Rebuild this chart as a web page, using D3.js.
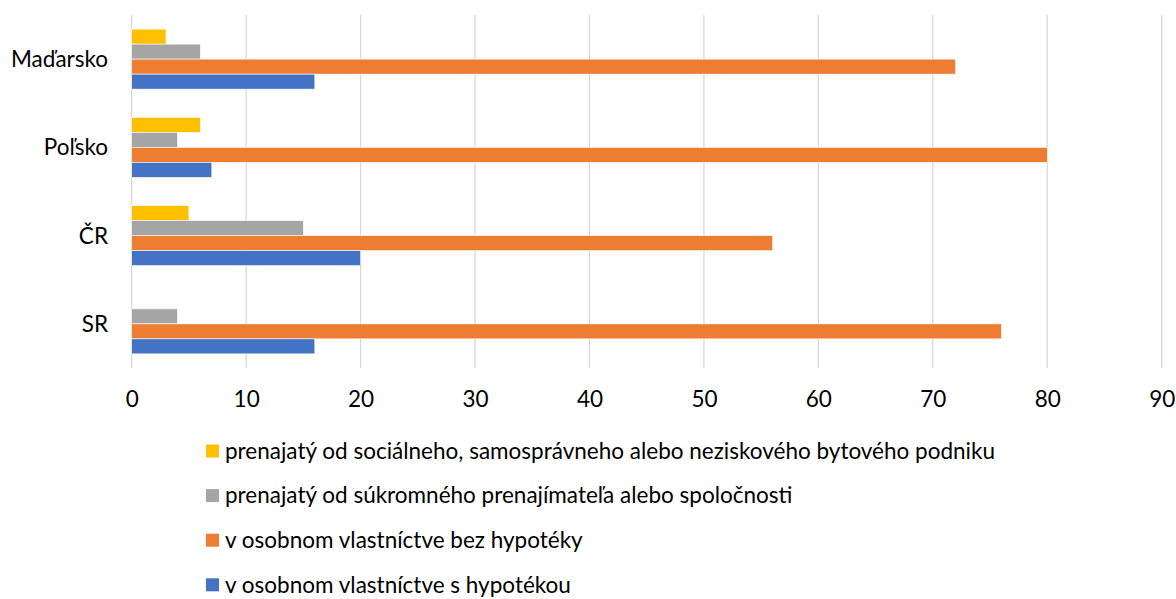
<!DOCTYPE html>
<html>
<head>
<meta charset="utf-8">
<script src="https://cdn.jsdelivr.net/npm/d3@7"></script>
<style>
  body { margin: 0; background: #fff; }
  text { font-family: Lato, "Open Sans", sans-serif; fill: #000; }
</style>
</head>
<body>
<div id="container"></div>
<script>
//chart data
var countries = ["Maďarsko", "Poľsko", "ČR", "SR"];
var seriesNames = [
    "prenajatý od sociálneho, samosprávneho alebo neziskového bytového podniku",
    "prenajatý od súkromného prenajímateľa alebo spoločnosti",
    "v osobnom vlastníctve bez hypotéky",
    "v osobnom vlastníctve s hypotékou"
];
var socialRent = [3, 6, 5, 0];
var privateRent = [6, 4, 15, 4];
var ownNoMortgage = [72, 80, 56, 76];
var ownMortgage = [16, 7, 20, 16];
var xTicks = [0, 10, 20, 30, 40, 50, 60, 70, 80, 90];
var colors = ["#FFC000", "#A5A5A5", "#ED7D31", "#4472C4"];

(function(){
    var width = 1176, height = 599;
    var fontSize = "22.5px";
    var values = [socialRent, privateRent, ownNoMortgage, ownMortgage];

    var svg = d3.select("#container")
        .append("svg")
        .attr("width", width)
        .attr("height", height);

    //scales
    var x = d3.scaleLinear()
        .domain([0, 90])
        .range([131.7, 1161.7]);

    var y = d3.scaleBand()
        .domain(countries)
        .range([15, 368])
        .paddingInner(0.32)
        .paddingOuter(0.16);

    var ySeries = d3.scaleBand()
        .domain(d3.range(seriesNames.length))
        .range([0, y.bandwidth()]);

    //vertical gridlines
    svg.append("g")
        .selectAll("line")
        .data(xTicks)
        .enter()
        .append("line")
        .attr("x1", function(d){ return x(d); })
        .attr("x2", function(d){ return x(d); })
        .attr("y1", 15)
        .attr("y2", 368)
        .attr("stroke", "#D9D9D9")
        .attr("stroke-width", 1.3);

    //bars
    var groups = svg.append("g")
        .selectAll("g")
        .data(countries)
        .enter()
        .append("g")
        .attr("transform", function(d){ return "translate(0," + y(d) + ")"; });

    groups.selectAll("rect")
        .data(function(d, ci){
            return values.map(function(v, si){ return {s: si, v: v[ci]}; });
        })
        .enter()
        .append("rect")
        .filter(function(d){ return d.v > 0; })
        .attr("x", x(0))
        .attr("y", function(d){ return ySeries(d.s); })
        .attr("width", function(d){ return x(d.v) - x(0); })
        .attr("height", ySeries.bandwidth())
        .attr("fill", function(d){ return colors[d.s]; })
        .attr("stroke", "#fff")
        .attr("stroke-width", 0.6);

    //category labels
    svg.append("g")
        .selectAll("text")
        .data(countries)
        .enter()
        .append("text")
        .attr("x", 108)
        .attr("y", function(d){ return y(d) + y.bandwidth() / 2; })
        .attr("dy", "0.35em")
        .attr("text-anchor", "end")
        .style("font-size", fontSize)
        .text(function(d){ return d; });

    //x axis labels
    var xAxis = d3.axisBottom(x)
        .tickValues(xTicks)
        .tickSize(0)
        .tickPadding(0);

    var axisG = svg.append("g")
        .attr("transform", "translate(0,399)")
        .call(xAxis);
    axisG.select(".domain").remove();
    axisG.selectAll("text")
        .attr("dy", "0.35em")
        .attr("y", 0)
        .style("font-size", fontSize)
        .style("font-family", "Lato, 'Open Sans', sans-serif")
        .attr("fill", "#000");

    //legend
    var legend = svg.append("g")
        .selectAll("g")
        .data(seriesNames)
        .enter()
        .append("g")
        .attr("transform", function(d, i){ return "translate(206," + (451 + i * 44.6) + ")"; });

    legend.append("rect")
        .attr("x", 0)
        .attr("y", -6.5)
        .attr("width", 13)
        .attr("height", 13)
        .attr("fill", function(d, i){ return colors[i]; });

    legend.append("text")
        .attr("x", 19)
        .attr("y", 0)
        .attr("dy", "0.35em")
        .style("font-size", fontSize)
        .text(function(d){ return d; });
})();
</script>
</body>
</html>
